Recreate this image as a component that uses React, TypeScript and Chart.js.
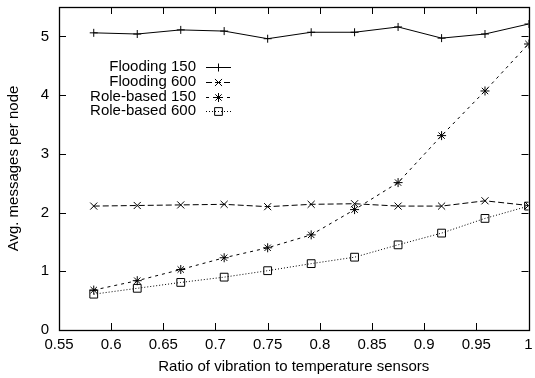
import React, { useEffect, useRef } from "react";
import { Chart, registerables } from "chart.js";

Chart.register(...registerables);

const xValues = [0.5833, 0.625, 0.6667, 0.7083, 0.75, 0.7917, 0.8333, 0.875, 0.9167, 0.9583, 1.0];
const flooding150 = [5.06, 5.04, 5.11, 5.09, 4.96, 5.07, 5.07, 5.16, 4.97, 5.04, 5.21];
const flooding600 = [2.11, 2.12, 2.13, 2.14, 2.1, 2.14, 2.15, 2.11, 2.11, 2.2, 2.12];
const roleBased150 = [0.68, 0.84, 1.03, 1.23, 1.4, 1.62, 2.05, 2.51, 3.31, 4.07, 4.87];
const roleBased600 = [0.61, 0.71, 0.81, 0.9, 1.01, 1.13, 1.24, 1.45, 1.65, 1.9, 2.11];

const seriesNames = ["Flooding 150", "Flooding 600", "Role-based 150", "Role-based 600"];
const xTickValues = [0.55, 0.6, 0.65, 0.7, 0.75, 0.8, 0.85, 0.9, 0.95, 1.0];
const xTickLabels = ["0.55", "0.6", "0.65", "0.7", "0.75", "0.8", "0.85", "0.9", "0.95", "1"];
const yTickValues = [0, 1, 2, 3, 4, 5];
const yTickLabels = ["0", "1", "2", "3", "4", "5"];

const FONT_FAMILY = "'Liberation Sans', Arial, Helvetica, sans-serif";
const FONT_SIZE = 15;

const styles = [
  { dash: [] as number[], point: "cross", r: 4 },
  { dash: [6, 3], point: "crossRot", r: 5 },
  { dash: [3, 4], point: "star", r: 4.5 },
  { dash: [1, 2], point: "rect", r: 5.5 },
];

function drawMarker(ctx: CanvasRenderingContext2D, style: string, x: number, y: number, r: number) {
  ctx.save();
  ctx.setLineDash([]);
  ctx.strokeStyle = "#000";
  ctx.lineWidth = 1;
  ctx.beginPath();
  const d = r * Math.SQRT1_2;
  if (style === "cross" || style === "star") {
    ctx.moveTo(x - r, y);
    ctx.lineTo(x + r, y);
    ctx.moveTo(x, y - r);
    ctx.lineTo(x, y + r);
  }
  if (style === "crossRot" || style === "star") {
    ctx.moveTo(x - d, y - d);
    ctx.lineTo(x + d, y + d);
    ctx.moveTo(x - d, y + d);
    ctx.lineTo(x + d, y - d);
  }
  if (style === "rect") {
    ctx.rect(x - d, y - d, 2 * d, 2 * d);
  }
  ctx.stroke();
  ctx.restore();
}

const frameAndLegend = {
  id: "frameAndLegend",
  beforeDatasetsDraw(chart: any) {
    const { ctx, chartArea } = chart;
    const { left, right, top, bottom } = chartArea;
    const xs = chart.scales.x;
    const ys = chart.scales.y;
    ctx.save();
    ctx.strokeStyle = "#000";
    ctx.lineWidth = 1;
    ctx.beginPath();
    const tl = 7;
    xTickValues.forEach((v) => {
      const px = Math.round(xs.getPixelForValue(v)) + 0.5;
      ctx.moveTo(px, bottom);
      ctx.lineTo(px, bottom - tl);
      ctx.moveTo(px, top);
      ctx.lineTo(px, top + tl);
    });
    yTickValues.forEach((v) => {
      const py = Math.round(ys.getPixelForValue(v)) + 0.5;
      ctx.moveTo(left, py);
      ctx.lineTo(left + tl, py);
      ctx.moveTo(right, py);
      ctx.lineTo(right - tl, py);
    });
    ctx.stroke();
    ctx.lineWidth = 1.3;
    ctx.strokeRect(Math.round(left) + 0.5, Math.round(top) + 0.5, Math.round(right - left), Math.round(bottom - top));
    ctx.restore();
  },
  afterDatasetsDraw(chart: any) {
    const { ctx } = chart;
    ctx.save();
    ctx.font = `${FONT_SIZE}px ${FONT_FAMILY}`;
    ctx.fillStyle = "#000";
    ctx.textAlign = "right";
    ctx.textBaseline = "middle";
    const textRight = 196;
    const lineL = 206;
    const lineR = 231;
    const rows = [67, 81.5, 96.5, 111];
    seriesNames.forEach((name, i) => {
      const y = rows[i];
      ctx.fillText(name, textRight, y);
      ctx.save();
      ctx.strokeStyle = "#000";
      ctx.lineWidth = 1;
      ctx.setLineDash(styles[i].dash);
      ctx.beginPath();
      ctx.moveTo(lineL, Math.round(y) + 0.5);
      ctx.lineTo(lineR, Math.round(y) + 0.5);
      ctx.stroke();
      ctx.restore();
      drawMarker(ctx, styles[i].point, (lineL + lineR) / 2, Math.round(y) + 0.5, styles[i].r);
    });
    ctx.restore();
  },
};

export default function App() {
  const canvasRef = useRef<HTMLCanvasElement | null>(null);

  useEffect(() => {
    if (!canvasRef.current) return;
    const allSeries = [flooding150, flooding600, roleBased150, roleBased600];
    const font = { family: FONT_FAMILY, size: FONT_SIZE };
    const chart = new Chart(canvasRef.current, {
      type: "line",
      data: {
        datasets: allSeries.map((s, i) => ({
          label: seriesNames[i],
          data: s.map((v, j) => ({ x: xValues[j], y: v })),
          borderColor: "#000",
          borderWidth: 1,
          borderDash: styles[i].dash,
          pointStyle: styles[i].point as any,
          pointRadius: styles[i].r,
          pointBorderWidth: 1,
          pointBorderColor: "#000",
          pointBackgroundColor: "rgba(0,0,0,0)",
          fill: false,
          tension: 0,
        })),
      },
      plugins: [frameAndLegend],
      options: {
        animation: false,
        responsive: false,
        events: [],
        layout: { padding: { top: 7, right: 4, left: 0, bottom: 0 } },
        plugins: { legend: { display: false }, tooltip: { enabled: false } },
        scales: {
          x: {
            type: "linear",
            min: 0.55,
            max: 1,
            afterBuildTicks: (s: any) => {
              s.ticks = xTickValues.map((v) => ({ value: v }));
            },
            afterFit: (s: any) => {
              s.height = 48;
              s.paddingLeft = 0;
              s.paddingRight = 0;
              s.paddingTop = 0;
              s.paddingBottom = 0;
            },
            ticks: {
              autoSkip: false,
              maxRotation: 0,
              color: "#000",
              font,
              padding: 6,
              callback: (_v: any, i: number) => xTickLabels[i],
            },
            grid: { display: false, drawTicks: false },
            border: { display: false },
            title: {
              display: true,
              text: "Ratio of vibration to temperature sensors",
              color: "#000",
              font,
              padding: { top: 0, bottom: 2 },
            },
          },
          y: {
            type: "linear",
            min: 0,
            max: 5.5,
            afterBuildTicks: (s: any) => {
              s.ticks = yTickValues.map((v) => ({ value: v }));
            },
            afterFit: (s: any) => {
              s.width = 59;
              s.paddingLeft = 0;
              s.paddingRight = 0;
              s.paddingTop = 0;
              s.paddingBottom = 0;
            },
            ticks: {
              color: "#000",
              font,
              padding: 10,
              callback: (_v: any, i: number) => yTickLabels[i],
            },
            grid: { display: false, drawTicks: false },
            border: { display: false },
            title: {
              display: true,
              text: "Avg. messages per node",
              color: "#000",
              font,
              padding: { top: 5, bottom: 0 },
            },
          },
        },
      },
    } as any);
    return () => chart.destroy();
  }, []);

  return (
    <div style={{ position: "absolute", left: 0, top: 0, width: 535, height: 378, background: "#fff" }}>
      <canvas ref={canvasRef} width={535} height={378} style={{ display: "block" }} />
    </div>
  );
}
